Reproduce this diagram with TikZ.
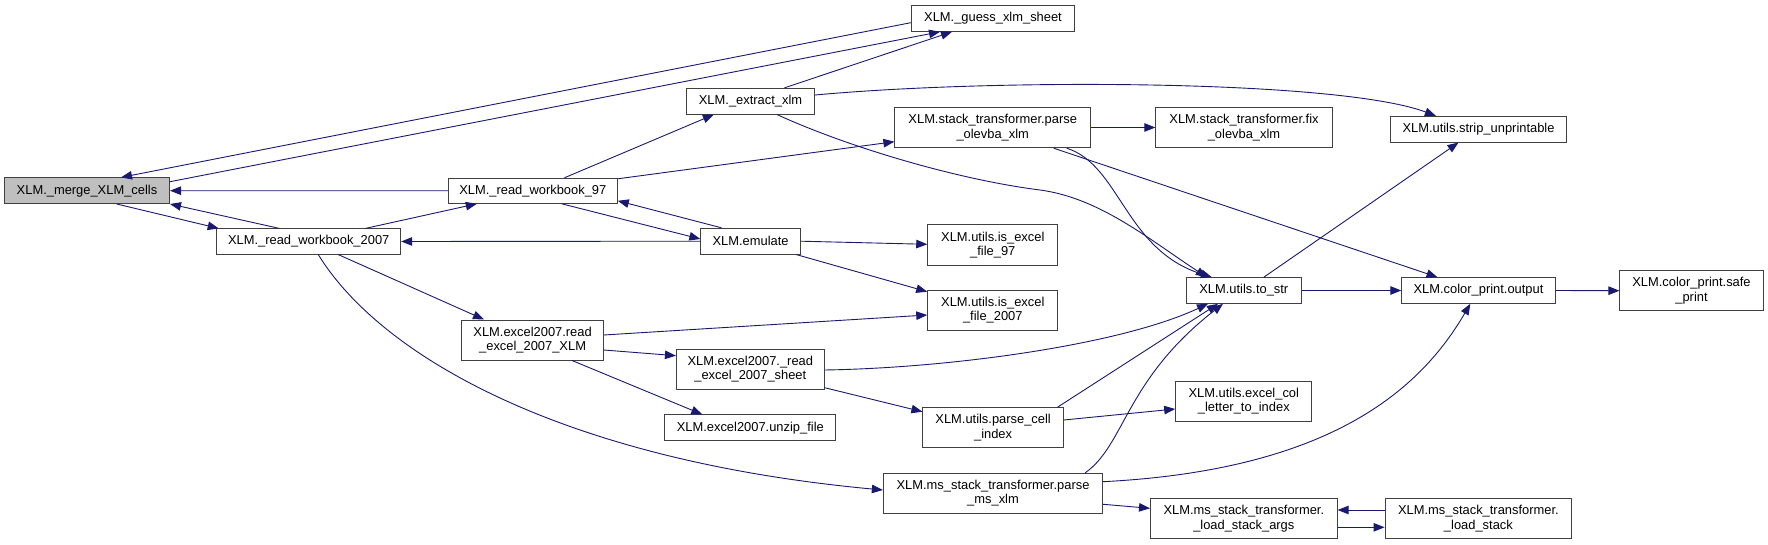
\documentclass[tikz,border=0pt]{standalone}
\usepackage{fontspec}
\setmainfont{Liberation Sans}
\usetikzlibrary{arrows.meta}
\definecolor{edgec}{HTML}{191970}
\definecolor{bord}{HTML}{404040}
\definecolor{hl}{HTML}{BFBFBF}
\begin{document}
\begin{tikzpicture}[x=1pt,y=-1pt,
  fn/.style={draw=bord, line width=1pt, fill=white, inner sep=0pt, align=center,
    font=\fontsize{12.9}{14.6}\selectfont, text=black, rectangle},
  e/.style={draw=edgec, line width=0.9pt, -{Triangle[length=11pt,width=8.5pt]}}]
\fill[white] (0,0) rectangle (1768,545);
\useasboundingbox (0,0) rectangle (1768,545);

% nodes
\node[fn, fill=hl, minimum width=165pt, minimum height=25.6pt] (merge) at (87,190.7) {XLM.\_merge\_XLM\_cells};
\node[fn, minimum width=184pt, minimum height=25.2pt] (rwb07) at (308.7,241.5) {XLM.\_read\_workbook\_2007};
\node[fn, minimum width=169pt, minimum height=25pt] (rwb97) at (532.8,190.8) {XLM.\_read\_workbook\_97};
\node[fn, minimum width=163.4pt, minimum height=25.6pt] (guess) at (993,18.5) {XLM.\_guess\_xlm\_sheet};
\node[fn, minimum width=128.2pt, minimum height=25.7pt] (extract) at (750.5,101.2) {XLM.\_extract\_xlm};
\node[fn, minimum width=195.6pt, minimum height=40.4pt] (olevba) at (992.7,127.5) {XLM.stack\_transformer.parse\\\_olevba\_xlm};
\node[fn, minimum width=99.5pt, minimum height=25.7pt] (emulate) at (750.6,241.2) {XLM.emulate};
\node[fn, minimum width=130.1pt, minimum height=40.6pt] (is97) at (992.8,245) {XLM.utils.is\_excel\\\_file\_97};
\node[fn, minimum width=176.3pt, minimum height=40.4pt] (fix) at (1244,127.5) {XLM.stack\_transformer.fix\\\_olevba\_xlm};
\node[fn, minimum width=176.4pt, minimum height=25.7pt] (strip) at (1478.5,129.2) {XLM.utils.strip\_unprintable};
\node[fn, minimum width=114.8pt, minimum height=25.6pt] (tostr) at (1243.8,290.5) {XLM.utils.to\_str};
\node[fn, minimum width=153.4pt, minimum height=25.6pt] (output) at (1478.5,290.5) {XLM.color\_print.output};
\node[fn, minimum width=143.1pt, minimum height=40pt] (safe) at (1691.5,290.7) {XLM.color\_print.safe\\\_print};
\node[fn, minimum width=136.2pt, minimum height=39.7pt] (excelcol) at (1243.8,401.2) {XLM.utils.excel\_col\\\_letter\_to\_index};
\node[fn, minimum width=186.6pt, minimum height=40.3pt] (lsargs) at (1243.8,518.8) {XLM.ms\_stack\_transformer.\\\_load\_stack\_args};
\node[fn, minimum width=186.7pt, minimum height=40.3pt] (lstack) at (1478.4,518.8) {XLM.ms\_stack\_transformer.\\\_load\_stack};
\node[fn, minimum width=130.1pt, minimum height=40pt] (is2007) at (992.8,310.3) {XLM.utils.is\_excel\\\_file\_2007};
\node[fn, minimum width=141.4pt, minimum height=40pt] (rxlm) at (532.6,340) {XLM.excel2007.read\\\_excel\_2007\_XLM};
\node[fn, minimum width=147.7pt, minimum height=40.3pt] (sheet) at (750.3,369.2) {XLM.excel2007.\_read\\\_excel\_2007\_sheet};
\node[fn, minimum width=170.7pt, minimum height=25.7pt] (unzip) at (750.3,427.8) {XLM.excel2007.unzip\_file};
\node[fn, minimum width=140.4pt, minimum height=40pt] (pci) at (993.1,427.7) {XLM.utils.parse\_cell\\\_index};
\node[fn, minimum width=219.3pt, minimum height=39.7pt] (pms) at (993,493.2) {XLM.ms\_stack\_transformer.parse\\\_ms\_xlm};

% edges
\draw[e] ([xshift=29.7pt]merge.south) -- ([xshift=-90pt]rwb07.north);
\draw[e] ([xshift=-29.4pt]rwb07.north) -- (merge.south east);
\draw[e] (rwb97.west) -- (merge.east);
\draw[e] ([yshift=-4.2pt]guess.west) -- ([xshift=34pt]merge.north);
\draw[e] ([yshift=9pt]merge.east) -- ([xshift=-53pt]guess.south);
\draw[e] ([xshift=34pt]extract.north) -- ([xshift=-41pt]guess.south);
\draw[e] ([xshift=56.7pt]rwb07.north) -- ([xshift=-56pt]rwb97.south);
\draw[e] ([xshift=31.6pt]rwb97.north) -- ([xshift=-36.6pt]extract.south);
\draw[e] ([yshift=-1pt]rwb97.north east) -- ([yshift=-14.2pt]olevba.west);
\draw[e] ([xshift=29pt]rwb97.south) -- ([yshift=2.2pt]emulate.west);
\draw[e] ([xshift=-29pt]emulate.north) -- ([yshift=-10pt]rwb97.east);
\draw[e] (emulate.west) -- (rwb07.east);
\draw[e] ([xshift=29.6pt]rwb07.south) -- ([xshift=-48.6pt]rxlm.north);
\draw[e] ([xshift=9.6pt]rwb07.south) .. controls (380,355) and (560,460) .. ([yshift=3.2pt]pms.west);
\draw[e] (emulate.east) -- ([yshift=0.7pt]is97.west);
\draw[e] ([xshift=45.6pt]emulate.south) -- ([yshift=18.6pt]is2007.west);
\draw[e] ([yshift=6.2pt]extract.east) .. controls (1000,78) and (1340,80) .. ([xshift=-42.6pt]strip.north);
\draw[e] ([xshift=26.5pt]extract.south) .. controls (850,148) and (960,180) .. (1040,190)
   .. controls (1100,198) and (1150,240) .. ([xshift=-37pt]tostr.north);
\draw[e] (olevba.east) -- (fix.west);
\draw[e] ([xshift=74pt]olevba.south) .. controls (1120,165) and (1125,250) .. ([xshift=-32pt]tostr.north);
\draw[e] ([xshift=61pt]olevba.south) -- ([xshift=-41pt]output.north);
\draw[e] ([yshift=5pt]rxlm.east) -- ([yshift=-4.7pt]is2007.west);
\draw[e] ([yshift=-10pt]rxlm.east) -- ([yshift=13.5pt]sheet.west);
\draw[e] ([xshift=39.4pt]rxlm.south) -- ([xshift=-48pt]unzip.north);
\draw[e] ([yshift=-0.8pt]sheet.east) .. controls (950,368) and (1120,345) .. ([xshift=-35.8pt]tostr.south);
\draw[e] ([yshift=-18.5pt]sheet.east) -- ([yshift=16pt]pci.west);
\draw[e] ([xshift=64.4pt]pci.north) -- ([xshift=-25.8pt]tostr.south);
\draw[e] ([yshift=7.7pt]pci.east) -- ([yshift=-7.8pt]excelcol.west);
\draw[e] ([xshift=92.1pt]pms.north) .. controls (1125,445) and (1125,380) .. ([xshift=-20.8pt]tostr.south);
\draw[e] ([yshift=11.5pt]pms.east) .. controls (1330,470) and (1420,390) .. ([xshift=-8.2pt]output.south);
\draw[e] ([yshift=-11.1pt]pms.east) -- ([yshift=10.5pt]lsargs.west);
\draw[e] ([yshift=-8.5pt]lsargs.east) -- ([yshift=-8.5pt]lstack.west);
\draw[e] ([yshift=8.8pt]lstack.west) -- ([yshift=8.8pt]lsargs.east);
\draw[e] (tostr.east) -- (output.west);
\draw[e] (output.east) -- (safe.west);
\draw[e] ([xshift=20pt]tostr.north) -- ([xshift=-20pt]strip.south);
\end{tikzpicture}
\end{document}
